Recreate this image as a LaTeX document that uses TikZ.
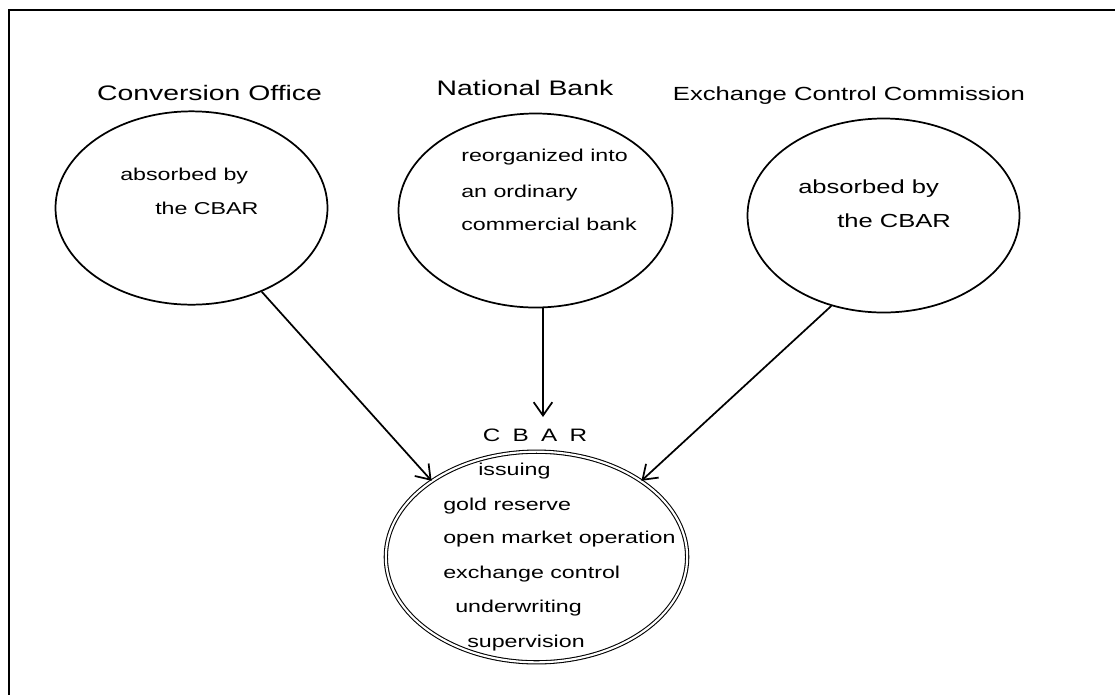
\documentclass[tikz,border=0pt]{standalone}
\usepackage{fontspec}
\setmainfont{Liberation Sans}
\usepackage{graphicx}
\usetikzlibrary{shapes.geometric,arrows.meta}
\newcommand{\hs}[1]{\scalebox{1.35}[1]{#1}}
\begin{document}
\begin{tikzpicture}[x=0.75pt,y=-0.75pt,
 oval/.style={draw,ellipse,line width=1.3pt,inner sep=0pt},
 ttl/.style={anchor=base,inner sep=0pt,font=\fontsize{15.75}{18}\selectfont},
 txt/.style={anchor=base west,inner sep=0pt,font=\fontsize{12.9}{15}\selectfont},
 txtb/.style={txt,font=\fontsize{14.2}{17}\selectfont},
 arr/.style={-{Straight Barb[length=10pt,width=14pt]},line width=1.3pt}]
\useasboundingbox (0,0) rectangle (1115,694);
\draw[line width=1.8pt] (9,700) -- (9,10) -- (1120,10);
% ovals
\node[oval,minimum width=204pt,minimum height=145pt] (co) at (191.5,208) {};
\node[oval,minimum width=205.5pt,minimum height=145.5pt] (nb) at (535.5,210.5) {};
\node[oval,minimum width=204pt,minimum height=145.5pt] (ecc) at (883.5,215.5) {};
\node[draw,ellipse,inner sep=0pt,double,double distance=1.6pt,line width=0.8pt,minimum width=226pt,minimum height=158pt] (cbar) at (536.5,557) {};
% titles
\node[ttl] (tco) at (209.5,100) {\hs{Conversion Office}};
\node[ttl] (tnb) at (525,95) {\hs{National Bank}};
\node[ttl,font=\fontsize{14.25}{17}\selectfont] (tecc) at (849,100) {\hs{Exchange Control Commission}};
\node[ttl,font=\fontsize{13.5}{16}\selectfont] (tcbar) at (535,441) {\hs{C\hspace{6.8pt}B\hspace{6.8pt}A\hspace{6.8pt}R}};
% inner texts
\node[txt] (co1) at (120,180) {\hs{absorbed by}};
\node[txt] (co2) at (155,214) {\hs{the CBAR}};
\node[txt] (nb1) at (461,161) {\hs{reorganized into}};
\node[txt] (nb2) at (461,197) {\hs{an ordinary}};
\node[txt] (nb3) at (461,230) {\hs{commercial bank}};
\node[txtb] (ec1) at (798,193) {\hs{absorbed by}};
\node[txtb] (ec2) at (837,227) {\hs{the CBAR}};
\node[txt] (cb1) at (478,475) {\hs{issuing}};
\node[txt] (cb2) at (443,510) {\hs{gold reserve}};
\node[txt] (cb3) at (443,543) {\hs{open market operation}};
\node[txt] (cb4) at (443,578) {\hs{exchange control}};
\node[txt] (cb5) at (455,612) {\hs{underwriting}};
\node[txt] (cb6) at (467,647) {\hs{supervision}};
% arrows
\draw[arr] (co.-50) -- (cbar.144);
\coordinate (t2) at (543,417);
\draw[arr] (nb.south -| t2) -- (t2);
\draw[arr] (ecc.-120) -- (cbar.36);
\end{tikzpicture}
\end{document}
